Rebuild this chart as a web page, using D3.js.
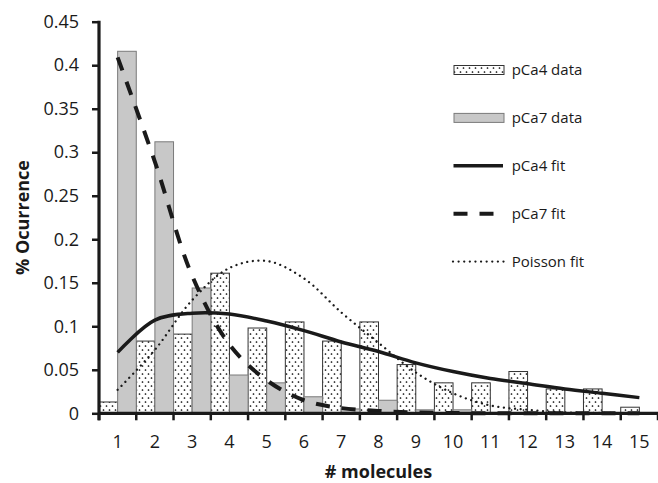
<!DOCTYPE html>
<html>
<head>
<meta charset="utf-8">
<script src="https://cdn.jsdelivr.net/npm/d3@7"></script>
<style>
  body { margin: 0; background: #fff; }
  svg { display: block; }
</style>
</head>
<body>
<div id="chart"></div>
<script>
const molecules = [1, 2, 3, 4, 5, 6, 7, 8, 9, 10, 11, 12, 13, 14, 15];

const pCa4Data = [0.013, 0.083, 0.091, 0.161, 0.098, 0.105, 0.083, 0.105, 0.056, 0.035, 0.035, 0.048, 0.028, 0.028, 0.007];
const pCa7Data = [0.416, 0.312, 0.144, 0.044, 0.035, 0.019, 0.005, 0.015, 0.004, 0.004, 0.001, 0, 0, 0, 0];

const pCa4Fit = [0.070, 0.107, 0.115, 0.114, 0.106, 0.095, 0.082, 0.071, 0.058, 0.048, 0.040, 0.034, 0.028, 0.023, 0.018];
const pCa7Fit = [0.409, 0.289, 0.158, 0.079, 0.038, 0.015, 0.006, 0.0027, 0.001, 0.0004, 0, 0, 0, 0, 0];
const poissonFit = [0.027, 0.073, 0.130, 0.167, 0.175, 0.155, 0.116, 0.081, 0.047, 0.023, 0.009, 0.004, 0.001, 0.0005, 0];

const yTicks = [0, 0.05, 0.1, 0.15, 0.2, 0.25, 0.3, 0.35, 0.4, 0.45];
const yTickLabels = ["0", "0.05", "0.1", "0.15", "0.2", "0.25", "0.3", "0.35", "0.4", "0.45"];

const legendLabels = ["pCa4 data", "pCa7 data", "pCa4 fit", "pCa7 fit", "Poisson fit"];

const width = 658;
const height = 483;
const ink = "#1a1a1a";
const font = "'Open Sans', 'Noto Sans', sans-serif";

const x = d3.scaleBand(molecules, [99, 658]);
const y = d3.scaleLinear([0, 0.45], [413.3, 21.7]);
const bw = x.bandwidth();
const cx = d => x(d) + bw / 2;

const svg = d3.create("svg")
    .attr("width", width)
    .attr("height", height)
    .attr("font-family", font);

// dot pattern for pCa4 bars
const defs = svg.append("defs");
const pat = defs.append("pattern")
    .attr("id", "dots")
    .attr("patternUnits", "userSpaceOnUse")
    .attr("width", 6)
    .attr("height", 8);
pat.append("rect").attr("width", 6).attr("height", 8).attr("fill", "#fff");
pat.append("circle").attr("cx", 1.5).attr("cy", 2).attr("r", 0.85).attr("fill", "#000");
pat.append("circle").attr("cx", 4.5).attr("cy", 6).attr("r", 0.85).attr("fill", "#000");

// bars
const bars = svg.append("g");
bars.selectAll("rect.p4")
    .data(molecules)
    .join("rect")
    .attr("class", "p4")
    .attr("x", d => x(d))
    .attr("width", bw / 2)
    .attr("y", (d, i) => y(pCa4Data[i]))
    .attr("height", (d, i) => y(0) - y(pCa4Data[i]))
    .attr("fill", "url(#dots)")
    .attr("stroke", "#333")
    .attr("stroke-width", 1);

bars.selectAll("rect.p7")
    .data(molecules)
    .join("rect")
    .attr("class", "p7")
    .attr("x", d => x(d) + bw / 2)
    .attr("width", bw / 2)
    .attr("y", (d, i) => y(pCa7Data[i]))
    .attr("height", (d, i) => y(0) - y(pCa7Data[i]))
    .attr("fill", "#c8c8c8")
    .attr("stroke", "#7a7a7a")
    .attr("stroke-width", 1);

// fit lines
const line = d3.line()
    .x(d => cx(d[0]))
    .y(d => y(d[1]))
    .curve(d3.curveCatmullRom.alpha(0.5));

const series = [
    { values: pCa4Fit, dash: null, w: 3.5, cap: "butt" },
    { values: pCa7Fit, dash: "14,12", w: 4, cap: "butt" },
    { values: poissonFit, dash: "0.01,5.6", w: 2.3, cap: "round" },
];

svg.append("g")
    .selectAll("path")
    .data(series)
    .join("path")
    .attr("d", s => line(molecules.map((m, i) => [m, s.values[i]])))
    .attr("fill", "none")
    .attr("stroke", ink)
    .attr("stroke-width", s => s.w)
    .attr("stroke-dasharray", s => s.dash)
    .attr("stroke-linecap", s => s.cap);

// y axis
const yAxis = svg.append("g")
    .attr("transform", `translate(${x.range()[0]},0)`)
    .call(d3.axisLeft(y)
        .tickValues(yTicks)
        .tickFormat((d, i) => yTickLabels[i])
        .tickSize(7)
        .tickSizeOuter(0)
        .tickPadding(13));
yAxis.select(".domain").remove();
yAxis.selectAll(".tick line").attr("stroke", ink).attr("stroke-width", 2.5);
yAxis.selectAll(".tick text")
    .attr("fill", ink)
    .attr("font-size", 18)
    .attr("font-family", font);

// x axis: labels under band centres, ticks at band edges
const xAxis = svg.append("g")
    .attr("transform", `translate(0,${y(0)})`)
    .call(d3.axisBottom(x).tickSize(0).tickPadding(22));
xAxis.select(".domain").remove();
xAxis.selectAll(".tick text")
    .attr("fill", ink)
    .attr("font-size", 18)
    .attr("font-family", font);

const edges = molecules.map(d => x(d)).concat([x.range()[1]]);
svg.append("g")
    .selectAll("line")
    .data(edges)
    .join("line")
    .attr("x1", d => d)
    .attr("x2", d => d)
    .attr("y1", y(0))
    .attr("y2", y(0) + 7)
    .attr("stroke", ink)
    .attr("stroke-width", 2.5);

svg.append("line")
    .attr("x1", x.range()[0]).attr("x2", x.range()[1])
    .attr("y1", y(0)).attr("y2", y(0))
    .attr("stroke", ink).attr("stroke-width", 3.2);
svg.append("line")
    .attr("x1", x.range()[0]).attr("x2", x.range()[0])
    .attr("y1", y(0.45) - 1).attr("y2", y(0) + 7)
    .attr("stroke", ink).attr("stroke-width", 3.2);

// axis titles
svg.append("text")
    .attr("x", (x.range()[0] + x.range()[1]) / 2)
    .attr("y", 478)
    .attr("text-anchor", "middle")
    .attr("font-weight", "bold")
    .attr("font-size", 18)
    .attr("fill", ink)
    .text("# molecules");

svg.append("text")
    .attr("transform", `translate(29,${(y(0) + y(0.45)) / 2}) rotate(-90)`)
    .attr("text-anchor", "middle")
    .attr("font-weight", "bold")
    .attr("font-size", 18)
    .attr("fill", ink)
    .text("% Ocurrence");

// legend
const legend = svg.append("g")
    .selectAll("g")
    .data(legendLabels)
    .join("g")
    .attr("transform", (d, i) => `translate(453,${70 + i * 47.9})`);

legend.filter((d, i) => i < 2)
    .append("rect")
    .attr("x", 1)
    .attr("y", -4.5)
    .attr("width", 50)
    .attr("height", 9)
    .attr("fill", (d, i) => i === 0 ? "url(#dots)" : "#c8c8c8")
    .attr("stroke", (d, i) => i === 0 ? "#333" : "#7a7a7a")
    .attr("stroke-width", 1);

legend.filter((d, i) => i >= 2)
    .append("line")
    .attr("x1", (d, i) => i === 2 ? 0 : 0.5)
    .attr("x2", (d, i) => i === 2 ? 53 : 50)
    .attr("stroke", ink)
    .attr("stroke-width", (d, i) => series[i].w)
    .attr("stroke-dasharray", (d, i) => series[i].dash)
    .attr("stroke-linecap", (d, i) => series[i].cap);

legend.append("text")
    .attr("x", 58.7)
    .attr("dy", "0.35em")
    .attr("font-size", 15)
    .attr("fill", ink)
    .text(d => d);

document.getElementById("chart").appendChild(svg.node());
</script>
</body>
</html>
